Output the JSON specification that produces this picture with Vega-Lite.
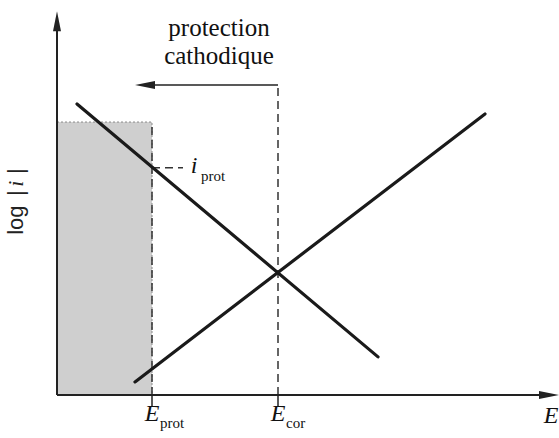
{
  "$schema": "https://vega.github.io/schema/vega-lite/v6.json",
  "autosize": "none",
  "width": 500,
  "height": 385,
  "padding": {"left": 57, "top": 10, "right": 2, "bottom": 43},
  "background": "white",
  "config": {"view": {"stroke": null}},
  "datasets": {
    "shade": [{"x": 0, "x2": 19, "y": 0, "y2": 70.9}],
    "curves": [
      {"branch": "cathodique", "E": 4, "logi": 75.6},
      {"branch": "cathodique", "E": 64.2, "logi": 9.9},
      {"branch": "anodique", "E": 15.6, "logi": 3.4},
      {"branch": "anodique", "E": 85.6, "logi": 73.0}
    ],
    "vdash": [
      {"name": "Eprot", "E": 19, "y": 0, "y2": 70.9},
      {"name": "Ecor", "E": 44.2, "y": 0, "y2": 80.5}
    ],
    "ticks": [
      {"name": "Eprot", "E": 19, "y": -3, "y2": 0},
      {"name": "Ecor", "E": 44.2, "y": -3, "y2": 0}
    ],
    "hdash": [{"name": "iprot", "E": 19, "E2": 25.2, "logi": 59}],
    "arrowline": [{"E": 17, "E2": 44.2, "logi": 80.5}],
    "axes": [
      {"E": 0, "E2": 0, "logi": 0, "logi2": 95},
      {"E": 0, "E2": 97, "logi": 0, "logi2": 0}
    ],
    "headLeft": [{"E": 17.6, "logi": 80.5}],
    "headUp": [{"E": 0, "logi": 97.1}],
    "headRight": [{"E": 98.4, "logi": 0}],
    "big": [
      {"t": "E", "E": 19, "logi": -6.8},
      {"t": "E", "E": 44.2, "logi": -6.8},
      {"t": "E", "E": 98.8, "logi": -7.3},
      {"t": "i", "E": 27.4, "logi": 57.7}
    ],
    "sub": [
      {"t": "prot", "E": 20.6, "logi": -8.6},
      {"t": "cor", "E": 45.8, "logi": -8.6},
      {"t": "prot", "E": 28.8, "logi": 55.6}
    ],
    "title": [
      {"t": "protection", "E": 32.4, "logi": 93.2},
      {"t": "cathodique", "E": 32.4, "logi": 86}
    ],
    "ylabPlain": [
      {"t": "log", "E": -6.8, "logi": 41.6},
      {"t": "|", "E": -6.8, "logi": 51.7},
      {"t": "|", "E": -6.8, "logi": 57.4}
    ],
    "ylabItalic": [{"t": "i", "E": -6.8, "logi": 54.1}]
  },
  "encoding": {
    "x": {"field": "E", "type": "quantitative", "scale": {"domain": [0, 100], "nice": false, "zero": false}, "axis": null},
    "y": {"field": "logi", "type": "quantitative", "scale": {"domain": [0, 100], "nice": false, "zero": false}, "axis": null}
  },
  "layer": [
    {
      "data": {"name": "shade"},
      "mark": {"type": "rect", "fill": "#cfcfcf", "stroke": "#8a8a8a", "strokeWidth": 1, "strokeDash": [2, 2]},
      "encoding": {
        "x": {"field": "x", "type": "quantitative"},
        "x2": {"field": "x2"},
        "y": {"field": "y", "type": "quantitative"},
        "y2": {"field": "y2"}
      }
    },
    {
      "data": {"name": "vdash"},
      "mark": {"type": "rule", "color": "#333", "strokeWidth": 1.5, "strokeDash": [8, 5]},
      "encoding": {
        "y": {"field": "y", "type": "quantitative"},
        "y2": {"field": "y2"}
      }
    },
    {
      "data": {"name": "ticks"},
      "mark": {"type": "rule", "color": "#222", "strokeWidth": 1.5},
      "encoding": {
        "y": {"field": "y", "type": "quantitative"},
        "y2": {"field": "y2"}
      }
    },
    {
      "data": {"name": "hdash"},
      "mark": {"type": "rule", "color": "#333", "strokeWidth": 1.5, "strokeDash": [8, 5]},
      "encoding": {"x2": {"field": "E2"}}
    },
    {
      "data": {"name": "axes"},
      "mark": {"type": "rule", "color": "#222", "strokeWidth": 2},
      "encoding": {"x2": {"field": "E2"}, "y2": {"field": "logi2"}}
    },
    {
      "data": {"name": "arrowline"},
      "mark": {"type": "rule", "color": "#222", "strokeWidth": 1.5},
      "encoding": {"x2": {"field": "E2"}}
    },
    {
      "data": {"name": "curves"},
      "mark": {"type": "line", "color": "#1a1a1a", "strokeWidth": 3.2, "strokeCap": "round"},
      "encoding": {"detail": {"field": "branch"}}
    },
    {
      "data": {"name": "headLeft"},
      "mark": {"type": "point", "shape": "M-1,0L1,-0.4L1,0.4Z", "filled": true, "color": "#222", "opacity": 1, "size": 400},
      "encoding": {}
    },
    {
      "data": {"name": "headUp"},
      "mark": {"type": "point", "shape": "M0,-1L0.4,1L-0.4,1Z", "filled": true, "color": "#222", "opacity": 1, "size": 400},
      "encoding": {}
    },
    {
      "data": {"name": "headRight"},
      "mark": {"type": "point", "shape": "M1,0L-1,-0.4L-1,0.4Z", "filled": true, "color": "#222", "opacity": 1, "size": 400},
      "encoding": {}
    },
    {
      "data": {"name": "big"},
      "mark": {"type": "text", "font": "Liberation Serif", "fontStyle": "italic", "fontSize": 24, "align": "center", "baseline": "alphabetic", "color": "#111"},
      "encoding": {"text": {"field": "t"}}
    },
    {
      "data": {"name": "sub"},
      "mark": {"type": "text", "font": "Liberation Serif", "fontSize": 15, "align": "left", "baseline": "alphabetic", "color": "#111"},
      "encoding": {"text": {"field": "t"}}
    },
    {
      "data": {"name": "title"},
      "mark": {"type": "text", "font": "Liberation Serif", "fontSize": 25, "align": "center", "baseline": "alphabetic", "color": "#111"},
      "encoding": {"text": {"field": "t"}}
    },
    {
      "data": {"name": "ylabPlain"},
      "mark": {"type": "text", "font": "Liberation Sans", "fontSize": 22, "angle": 270, "align": "left", "baseline": "alphabetic", "color": "#222"},
      "encoding": {"text": {"field": "t"}}
    },
    {
      "data": {"name": "ylabItalic"},
      "mark": {"type": "text", "font": "Liberation Serif", "fontStyle": "italic", "fontSize": 22, "angle": 270, "align": "left", "baseline": "alphabetic", "color": "#222"},
      "encoding": {"text": {"field": "t"}}
    }
  ]
}
